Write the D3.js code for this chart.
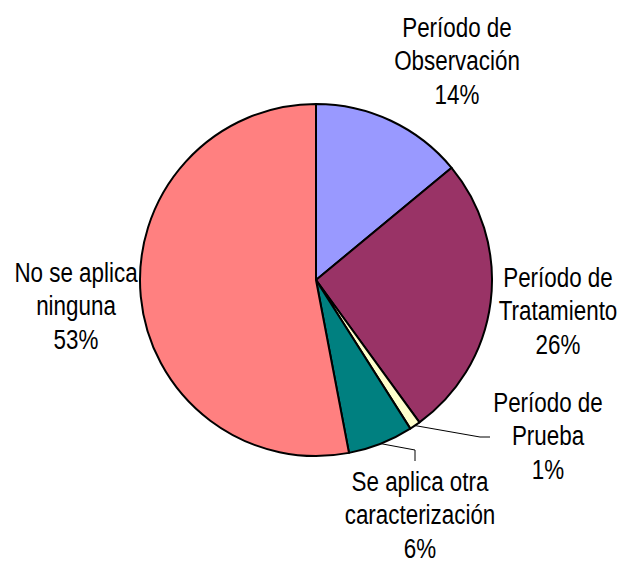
<!DOCTYPE html>
<html lang="es">
<head>
<meta charset="utf-8">
<title>pie</title>
<script src="https://cdn.jsdelivr.net/npm/d3@7"></script>
<style>
  body { margin: 0; background: #fff; }
  text { font-family: "Liberation Sans Narrow", "Arial Narrow", "Liberation Sans", sans-serif; fill: #000; }
</style>
</head>
<body>
<script>
var categories = ["Período de Observación", "Período de Tratamiento", "Período de Prueba",
                  "Se aplica otra caracterización", "No se aplica ninguna"];
var labelLines = [["Período de", "Observación"], ["Período de", "Tratamiento"], ["Período de", "Prueba"],
                  ["Se aplica otra", "caracterización"], ["No se aplica", "ninguna"]];
var values = [14, 26, 1, 6, 53];
var colors = ["#9999FF", "#993366", "#FFFFCC", "#008080", "#FF8080"];

var w = 618, h = 564;
var cx = 316, cy = 280, radius = 176;
var lineH = 33.5;
var squeeze = 0.8;   // no narrow font installed, so condense horizontally

// label anchor (centre x, first baseline y) and optional leader elbow
var layout = [
  { x: 457, y: 37 },
  { x: 558, y: 287 },
  { x: 548, y: 412, elbow: [[480, 437], [490, 437]] },
  { x: 420, y: 491, elbow: [[415, 450], [415, 461]] },
  { x: 76,  y: 282 }
];

var svg = d3.select("body").append("svg")
  .attr("width", w)
  .attr("height", h);

var pie = d3.pie().sort(null).value(function(d) { return d; });
var arcs = pie(values);
var arc = d3.arc().innerRadius(0).outerRadius(radius);

var g = svg.append("g").attr("transform", "translate(" + cx + "," + cy + ")");

g.selectAll("path.slice")
  .data(arcs)
  .enter().append("path")
  .attr("class", "slice")
  .attr("d", arc)
  .attr("fill", function(d, i) { return colors[i]; })
  .attr("stroke", "#000")
  .attr("stroke-width", 2)
  .attr("stroke-linejoin", "round");

// leader lines
arcs.forEach(function(d, i) {
  var L = layout[i];
  if (!L.elbow) return;
  var a = (d.startAngle + d.endAngle) / 2;
  var p0 = [cx + radius * Math.sin(a), cy - radius * Math.cos(a)];
  svg.append("path")
    .attr("d", d3.line()([p0].concat(L.elbow)))
    .attr("fill", "none")
    .attr("stroke", "#000")
    .attr("stroke-width", 1);
});

// labels
arcs.forEach(function(d, i) {
  var L = layout[i];
  var t = svg.append("text")
    .attr("text-anchor", "middle")
    .attr("font-size", "28px")
    .attr("transform", "translate(" + L.x + "," + L.y + ") scale(" + squeeze + ",1)");
  labelLines[i].concat([values[i] + "%"]).forEach(function(s, k) {
    t.append("tspan")
      .attr("x", 0)
      .attr("y", k * lineH)
      .text(s);
  });
});
</script>
</body>
</html>
